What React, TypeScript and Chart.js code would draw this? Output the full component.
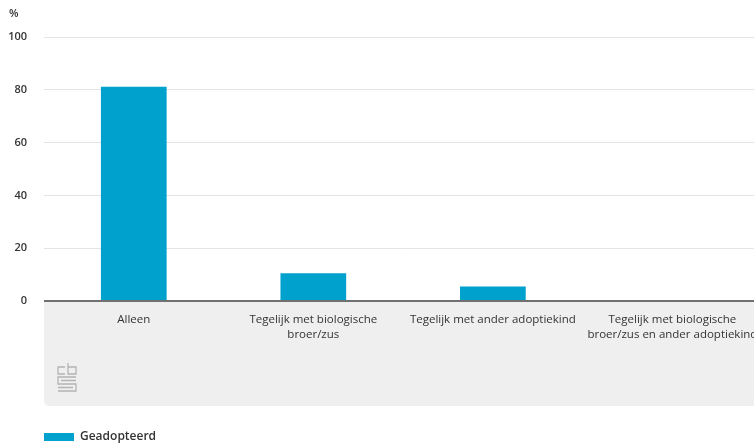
import React, { useEffect, useRef } from "react";
import { Chart, registerables } from "chart.js";

Chart.register(...registerables);

const categories: string[][] = [
  ["Alleen"],
  ["Tegelijk met biologische", "broer/zus"],
  ["Tegelijk met ander adoptiekind"],
  ["Tegelijk met biologische", "broer/zus en ander adoptiekind"],
];
const seriesName = "Geadopteerd";
const geadopteerd = [81.2, 10.5, 5.5, 0];
const yTicks = [0, 20, 40, 60, 80, 100];
const unitLabel = "%";

const FONT = "'Open Sans', 'Noto Sans', sans-serif";

const bandPlugin = {
  id: "band",
  beforeDraw(chart: any) {
    const { ctx, chartArea } = chart;
    const left = chartArea.left;
    const top = chartArea.bottom;
    const bottom = chartArea.bottom + 105;
    const right = chart.width + 20;
    const r = 6;
    ctx.save();
    ctx.fillStyle = "#efefef";
    ctx.beginPath();
    ctx.moveTo(left, top);
    ctx.lineTo(right, top);
    ctx.lineTo(right, bottom);
    ctx.lineTo(left + r, bottom);
    ctx.quadraticCurveTo(left, bottom, left, bottom - r);
    ctx.closePath();
    ctx.fill();
    // CBS logo
    const lx = left + 13;
    const ly = top + 62;
    ctx.strokeStyle = "#b4b4b4";
    ctx.lineWidth = 1.3;
    ctx.beginPath();
    ctx.moveTo(lx + 8, ly + 4);
    ctx.lineTo(lx + 1, ly + 4);
    ctx.lineTo(lx + 1, ly + 11);
    ctx.lineTo(lx + 8, ly + 11);
    ctx.moveTo(lx + 11, ly);
    ctx.lineTo(lx + 11, ly + 11);
    ctx.lineTo(lx + 19, ly + 11);
    ctx.lineTo(lx + 19, ly + 4);
    ctx.lineTo(lx + 11, ly + 4);
    ctx.moveTo(lx + 19, ly + 14);
    ctx.lineTo(lx + 1, ly + 14);
    ctx.lineTo(lx + 1, ly + 21);
    ctx.lineTo(lx + 19, ly + 21);
    ctx.lineTo(lx + 19, ly + 28);
    ctx.lineTo(lx + 1, ly + 28);
    ctx.moveTo(lx + 4, ly + 17.5);
    ctx.lineTo(lx + 19, ly + 17.5);
    ctx.moveTo(lx + 1, ly + 24.5);
    ctx.lineTo(lx + 16, ly + 24.5);
    ctx.stroke();
    ctx.restore();
  },
  afterDraw(chart: any) {
    const { ctx } = chart;
    ctx.save();
    ctx.fillStyle = "#333";
    ctx.font = `600 11px ${FONT}`;
    ctx.textBaseline = "top";
    ctx.textAlign = "left";
    ctx.fillText(unitLabel, 1, 0);
    ctx.restore();
  },
};

export default function App() {
  const ref = useRef<HTMLCanvasElement>(null);
  useEffect(() => {
    if (!ref.current) return;
    const chart = new Chart(ref.current, {
      type: "bar",
      data: {
        labels: categories,
        datasets: [
          {
            label: seriesName,
            data: geadopteerd,
            backgroundColor: "#00a1cd",
            borderWidth: 0,
            barPercentage: 0.366,
            categoryPercentage: 1,
          },
        ],
      },
      options: {
        animation: false,
        responsive: false,
        maintainAspectRatio: false,
        layout: { padding: { top: 29, right: 5, left: 0, bottom: 0 } },
        plugins: {
          tooltip: { enabled: false },
          legend: {
            position: "bottom",
            align: "start",
            fullSize: false,
            labels: {
              boxWidth: 30,
              boxHeight: 8,
              padding: 0,
              color: "#333",
              font: { family: FONT, size: 12, weight: "600" },
            },
          },
        },
        scales: {
          x: {
            grid: { display: false, drawTicks: false },
            border: { display: false },
            ticks: {
              color: "#333",
              padding: 12,
              maxRotation: 0,
              autoSkip: false,
              font: { family: FONT, size: 11.5, weight: "500", lineHeight: 1.25 },
            },
            afterFit(scale: any) {
              scale.height = 130;
            },
          },
          y: {
            min: 0,
            max: 100,
            afterBuildTicks(scale: any) {
              scale.ticks = yTicks.map((v) => ({ value: v }));
            },
            afterFit(scale: any) {
              scale.width = 36;
            },
            grid: {
              drawTicks: false,
              color: (c: any) => (c.tick && c.tick.value === 0 ? "#707070" : "#e4e4e4"),
              lineWidth: (c: any) => (c.tick && c.tick.value === 0 ? 2 : 1),
            },
            border: { display: false },
            ticks: {
              color: "#333",
              padding: 17,
              font: { family: FONT, size: 11, weight: "600" },
            },
          },
        },
      },
      plugins: [bandPlugin],
    } as any);
    return () => chart.destroy();
  }, []);
  return (
    <div
      style={{
        position: "fixed",
        left: 0,
        top: 0,
        width: 754,
        height: 447,
        overflow: "hidden",
        background: "#fff",
      }}
    >
      <canvas
        ref={ref}
        width={762}
        height={445}
        style={{ display: "block", position: "absolute", left: 8, top: 8 }}
      />
    </div>
  );
}
